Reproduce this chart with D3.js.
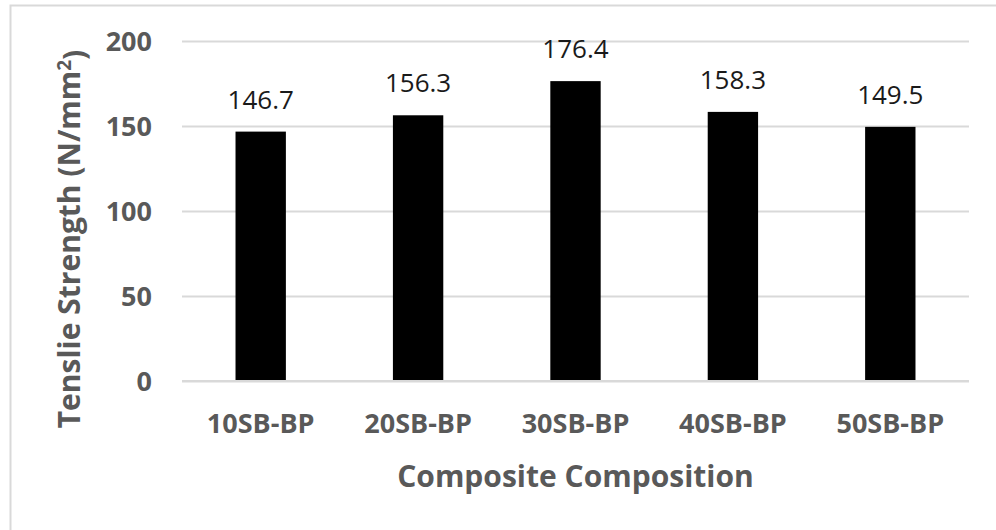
<!DOCTYPE html>
<html>
<head>
<meta charset="utf-8" />
<title>Tensile Strength</title>
<script src="https://cdnjs.cloudflare.com/ajax/libs/d3/7.8.5/d3.min.js"></script>
<style>
  body { margin: 0; background: #fff; }
  text { font-family: "Open Sans", sans-serif; }
</style>
</head>
<body>
<svg id="chart" width="996" height="530"></svg>
<script>
  // data
  const categories = ['10SB-BP', '20SB-BP', '30SB-BP', '40SB-BP', '50SB-BP']
  const strength = [146.7, 156.3, 176.4, 158.3, 149.5]
  const yTicks = [0, 50, 100, 150, 200]

  const svg = d3.select('#chart')
  const plot = { left: 182, right: 969, top: 41, bottom: 381 }

  let xScale = d3.scaleBand().domain(categories).range([plot.left, plot.right])
    .paddingInner(0.68).paddingOuter(0.34)
  let yScale = d3.scaleLinear().domain([0, 200]).range([plot.bottom, plot.top])

  // outer frame (only top & left visible in the crop)
  svg.append('path')
    .attr('d', 'M10.5,530 V5.5 H996')
    .style('fill', 'none')
    .style('stroke', '#d9d9d9')
    .style('stroke-width', '2px')

  // gridlines
  let yAxis = d3.axisLeft(yScale).tickValues(yTicks)
    .tickSize(-(plot.right - plot.left)).tickPadding(30)
  let gy = svg.append('g').attr('id', 'yAxis')
    .attr('transform', 'translate(' + plot.left + ',0)')
    .call(yAxis)
  gy.select('.domain').remove()
  gy.selectAll('.tick line').style('stroke', '#d9d9d9').style('stroke-width', '2px')
  gy.selectAll('.tick text')
    .style('font-size', '27px').style('font-weight', 'bold').style('fill', '#595959')
    .attr('dy', '0.36em')

  // bars
  svg.selectAll('rect.bar')
    .data(strength)
    .enter()
    .append('rect')
    .attr('class', 'bar')
    .attr('x', (d, i) => xScale(categories[i]))
    .attr('width', xScale.bandwidth())
    .attr('y', d => yScale(d))
    .attr('height', d => yScale(0) - yScale(d))
    .style('fill', '#000')

  // x axis
  let xAxis = d3.axisBottom(xScale).tickSize(0).tickPadding(33)
  let gx = svg.append('g').attr('id', 'xAxis')
    .attr('transform', 'translate(0,' + plot.bottom + ')')
    .call(xAxis)
  gx.select('.domain').remove()
  gx.append('line')
    .attr('x1', plot.left).attr('x2', plot.right)
    .style('stroke', '#d9d9d9').style('stroke-width', '2px')
  gx.selectAll('.tick text')
    .style('font-size', '27px').style('font-weight', 'bold').style('fill', '#595959')

  // data labels
  svg.selectAll('text.label')
    .data(strength)
    .enter()
    .append('text')
    .attr('class', 'label')
    .attr('x', (d, i) => xScale(categories[i]) + xScale.bandwidth() / 2)
    .attr('y', d => yScale(d) - 23)
    .attr('text-anchor', 'middle')
    .style('font-size', '26px')
    .style('fill', '#1a1a1a')
    .text(d => d.toFixed(1))

  // axis titles
  svg.append('text')
    .attr('x', (plot.left + plot.right) / 2)
    .attr('y', 487)
    .attr('text-anchor', 'middle')
    .style('font-size', '30px').style('font-weight', 'bold').style('fill', '#595959')
    .text('Composite Composition')

  let yTitle = svg.append('text')
    .attr('transform', 'translate(80,239) rotate(-90)')
    .attr('text-anchor', 'middle')
    .style('font-size', '30px').style('font-weight', 'bold').style('fill', '#595959')
  yTitle.append('tspan').text('Tenslie Strength (N/mm')
  yTitle.append('tspan').attr('dy', '-0.45em').style('font-size', '19px').text('2')
  yTitle.append('tspan').attr('dy', '0.45em').text(')')
</script>
</body>
</html>
